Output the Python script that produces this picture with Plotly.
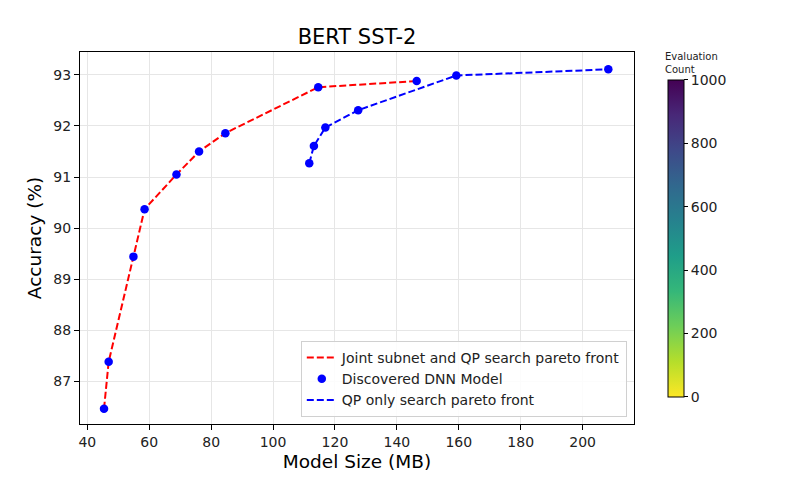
import plotly.graph_objects as go

# joint subnet + QP search pareto front
joint_size = [45.4, 46.9, 54.9, 58.5, 68.8, 76.1, 84.6, 114.6, 146.4]
joint_acc = [86.46, 87.38, 89.44, 90.37, 91.05, 91.50, 91.86, 92.76, 92.88]

# QP only search pareto front
qp_size = [111.7, 113.2, 116.9, 127.5, 159.2, 208.3]
qp_acc = [91.27, 91.61, 91.97, 92.31, 92.99, 93.11]

eval_count_range = [0, 1000]
cbar_ticks = [0, 200, 400, 600, 800, 1000]
x_ticks = [40, 60, 80, 100, 120, 140, 160, 180, 200]
y_ticks = [87, 88, 89, 90, 91, 92, 93]

font = "DejaVu Sans"

fig = go.Figure()

fig.add_trace(go.Scatter(
    x=joint_size, y=joint_acc, mode="lines",
    line=dict(color="red", width=2, dash="7px,3px"),
    name="Joint subnet and QP search pareto front"))

fig.add_trace(go.Scatter(
    x=joint_size + qp_size, y=joint_acc + qp_acc, mode="markers",
    marker=dict(color="blue", size=8.5),
    name="Discovered DNN Model"))

fig.add_trace(go.Scatter(
    x=qp_size, y=qp_acc, mode="lines",
    line=dict(color="blue", width=2, dash="7px,3px"),
    name="QP only search pareto front"))

# dummy trace just for the colorbar
fig.add_trace(go.Scatter(
    x=[None], y=[None], mode="markers", showlegend=False, hoverinfo="skip",
    marker=dict(color=eval_count_range, colorscale="Viridis", reversescale=True,
                cmin=eval_count_range[0], cmax=eval_count_range[1], showscale=True,
                colorbar=dict(x=1.061, xanchor="left", y=0.499, yanchor="middle",
                              len=0.852, lenmode="fraction", thickness=16,
                              outlinecolor="black", outlinewidth=1,
                              tickvals=cbar_ticks, ticks="outside", ticklen=4,
                              tickcolor="black", xpad=0, ypad=0,
                              tickfont=dict(family=font, size=14, color="#222")))))

# page body adds 8px, so margins are shifted to compensate
fig.update_layout(
    width=800, height=500,
    margin=dict(l=72, r=174, t=44, b=84),
    paper_bgcolor="white", plot_bgcolor="white",
    font=dict(family=font, size=14, color="#222"),
    title=dict(text="BERT SST-2", xref="paper", x=0.5, xanchor="center", y=0.942, yanchor="middle",
               font=dict(family=font, size=21, color="black")),
    legend=dict(x=0.987, xanchor="right", y=0.019, yanchor="bottom",
                bgcolor="rgba(255,255,255,0.85)", bordercolor="#d0d0d0", borderwidth=1,
                font=dict(family=font, size=14, color="#222"),
                tracegroupgap=0, itemwidth=30),
    showlegend=True,
)

fig.add_annotation(text="Evaluation<br>Count", xref="paper", yref="paper",
                   x=1.052, y=1.008, xanchor="left", yanchor="top", showarrow=False,
                   align="left", font=dict(family=font, size=10, color="#222"))

fig.update_xaxes(range=[37.64, 216.6], tickvals=x_ticks, showgrid=True, gridcolor="#e6e6e6",
                 showline=True, linecolor="black", mirror=True, ticks="outside", ticklen=5,
                 tickcolor="black", zeroline=False,
                 title=dict(text="Model Size (MB)", standoff=6,
                            font=dict(family=font, size=18.5, color="black")))
fig.update_yaxes(range=[86.16, 93.45], tickvals=y_ticks, showgrid=True, gridcolor="#e6e6e6",
                 showline=True, linecolor="black", mirror=True, ticks="outside", ticklen=5,
                 tickcolor="black", zeroline=False,
                 title=dict(text="Accuracy (%)", standoff=6,
                            font=dict(family=font, size=18.5, color="black")))

fig.write_html("out.html")
